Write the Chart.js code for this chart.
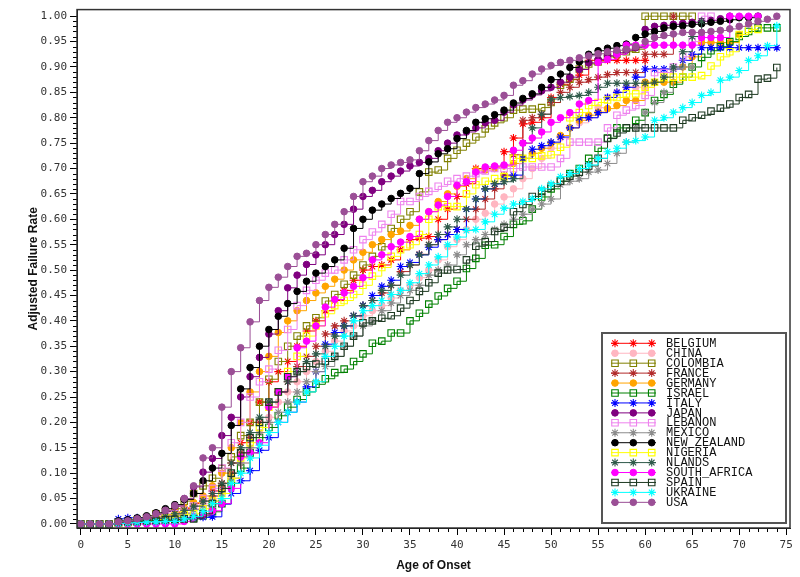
<!DOCTYPE html>
<html>
<head>
<meta charset="utf-8">
<script src="https://cdn.jsdelivr.net/npm/chart.js"></script>
<style>
html,body{margin:0;padding:0;background:#fff;}
#wrap{width:800px;height:577px;position:relative;}
</style>
</head>
<body>
<div id="wrap"><canvas id="c" width="800" height="577"></canvas></div>
<script>
// ---- data (age of onset, adjusted failure rate) ----
const ages = [0,1,2,3,4,5,6,7,8,9,10,11,12,13,14,15,16,17,18,19,20,21,22,23,24,25,26,27,28,29,30,31,32,33,34,35,36,37,38,39,40,41,42,43,44,45,46,47,48,49,50,51,52,53,54,55,56,57,58,59,60,61,62,63,64,65,66,67,68,69,70,71,72,73,74];

const BELGIUM = [0,0,0,0,0.003,0.005,0.007,0.01,0.013,0.017,0.022,0.03,0.04,0.05,0.065,0.08,0.12,0.16,0.20,0.24,0.28,0.30,0.32,0.35,0.38,0.40,0.42,0.44,0.46,0.48,0.50,0.507,0.51,0.52,0.54,0.56,0.563,0.566,0.60,0.62,0.645,0.67,0.70,0.70,0.703,0.733,0.76,0.788,0.791,0.80,0.84,0.866,0.875,0.884,0.913,0.913,0.913,0.913,0.913,0.913,0.913];
const CHINA = [0,0,0,0,0.002,0.004,0.006,0.008,0.01,0.013,0.017,0.022,0.03,0.04,0.05,0.06,0.09,0.12,0.15,0.18,0.21,0.24,0.26,0.28,0.30,0.32,0.34,0.36,0.38,0.39,0.41,0.42,0.43,0.445,0.46,0.47,0.485,0.50,0.52,0.546,0.56,0.58,0.60,0.612,0.63,0.644,0.66,0.68,0.70,0.72,0.74,0.76,0.78,0.79,0.80,0.82,0.84,0.85,0.86,0.86,0.86,0.87];
const COLOMBIA = [0,0,0,0,0.003,0.005,0.008,0.012,0.02,0.025,0.03,0.045,0.06,0.075,0.09,0.109,0.132,0.174,0.20,0.24,0.285,0.32,0.35,0.37,0.39,0.406,0.439,0.452,0.472,0.49,0.51,0.527,0.546,0.582,0.60,0.615,0.654,0.693,0.697,0.72,0.736,0.75,0.762,0.778,0.79,0.80,0.815,0.817,0.817,0.82,0.83,0.864,0.876,0.896,0.906,0.91,0.92,0.925,0.93,0.935,1,1,1,1,1,1];
const FRANCE = [0,0,0,0,0.002,0.004,0.006,0.009,0.012,0.016,0.02,0.027,0.035,0.045,0.055,0.07,0.10,0.14,0.17,0.20,0.23,0.26,0.28,0.31,0.33,0.35,0.374,0.39,0.40,0.41,0.43,0.44,0.455,0.47,0.497,0.51,0.531,0.55,0.56,0.57,0.58,0.60,0.62,0.64,0.66,0.687,0.727,0.795,0.80,0.807,0.83,0.85,0.86,0.87,0.875,0.88,0.885,0.889,0.889,0.889,0.925,0.925,0.925,1];
const GERMANY = [0,0,0,0,0.003,0.005,0.007,0.01,0.014,0.018,0.024,0.032,0.042,0.055,0.075,0.10,0.15,0.20,0.26,0.30,0.33,0.377,0.40,0.42,0.44,0.455,0.468,0.482,0.50,0.52,0.535,0.55,0.56,0.57,0.577,0.588,0.60,0.615,0.635,0.65,0.665,0.68,0.697,0.697,0.70,0.705,0.71,0.72,0.73,0.74,0.75,0.765,0.78,0.795,0.805,0.811,0.818,0.824,0.834,0.834,0.87,0.87,0.87,0.87,0.90,0.92,0.948,0.948,0.948,0.948,0.964];
const ISRAEL = [0,0,0,0,0.002,0.003,0.004,0.005,0.006,0.007,0.008,0.01,0.012,0.016,0.024,0.04,0.08,0.11,0.14,0.17,0.19,0.213,0.23,0.245,0.26,0.275,0.286,0.298,0.305,0.32,0.335,0.356,0.36,0.376,0.376,0.40,0.415,0.433,0.449,0.464,0.478,0.503,0.523,0.549,0.55,0.566,0.59,0.597,0.62,0.644,0.66,0.675,0.69,0.70,0.72,0.74,0.76,0.78,0.78,0.795,0.81,0.834,0.846,0.866,0.88,0.90,0.919,0.932,0.94,0.95,0.96,0.97,0.977,0.977,0.977];
const ITALY = [0,0,0,0,0.01,0.012,0.012,0.012,0.012,0.012,0.012,0.012,0.012,0.013,0.014,0.039,0.06,0.085,0.105,0.145,0.17,0.20,0.22,0.24,0.27,0.30,0.354,0.377,0.39,0.41,0.43,0.45,0.468,0.48,0.507,0.515,0.53,0.545,0.56,0.57,0.58,0.62,0.64,0.66,0.67,0.68,0.687,0.72,0.738,0.745,0.752,0.762,0.78,0.80,0.80,0.81,0.84,0.85,0.86,0.88,0.896,0.896,0.896,0.896,0.913,0.925,0.938,0.938,0.938,0.938,0.938,0.938,0.938,0.938,0.938];
const JAPAN = [0,0,0,0,0.003,0.005,0.008,0.012,0.018,0.025,0.035,0.05,0.073,0.102,0.129,0.174,0.21,0.25,0.29,0.328,0.374,0.42,0.465,0.49,0.511,0.53,0.55,0.57,0.59,0.62,0.645,0.657,0.674,0.685,0.695,0.705,0.712,0.72,0.735,0.75,0.766,0.772,0.78,0.79,0.795,0.811,0.825,0.835,0.845,0.853,0.86,0.87,0.88,0.895,0.908,0.915,0.922,0.928,0.933,0.938,0.974,0.98,0.982,0.984,0.986,0.988,0.99,0.992,0.995,1];
const LEBANON = [0,0,0,0,0.002,0.004,0.006,0.009,0.012,0.016,0.02,0.027,0.035,0.05,0.07,0.11,0.16,0.20,0.25,0.28,0.305,0.342,0.383,0.43,0.46,0.48,0.494,0.50,0.52,0.54,0.56,0.575,0.59,0.61,0.635,0.635,0.645,0.655,0.665,0.675,0.68,0.685,0.69,0.695,0.70,0.70,0.70,0.703,0.703,0.703,0.703,0.72,0.752,0.752,0.752,0.752,0.78,0.805,0.815,0.824,0.844,0.889,0.889,0.90,0.92,0.95,1,1];
const MEXICO = [0,0,0,0,0.002,0.003,0.005,0.007,0.009,0.012,0.016,0.021,0.028,0.036,0.045,0.06,0.09,0.12,0.15,0.18,0.20,0.22,0.24,0.26,0.28,0.30,0.31,0.33,0.35,0.37,0.39,0.40,0.42,0.435,0.45,0.46,0.47,0.49,0.50,0.51,0.53,0.55,0.56,0.57,0.58,0.59,0.60,0.61,0.62,0.63,0.64,0.668,0.675,0.68,0.693,0.697,0.71,0.73,0.752,0.78,0.811,0.83,0.85,0.896,0.90,0.90];
const NEW_ZEALAND = [0,0,0,0,0.006,0.008,0.012,0.016,0.022,0.03,0.038,0.048,0.06,0.085,0.11,0.139,0.194,0.266,0.308,0.35,0.383,0.409,0.434,0.458,0.478,0.494,0.507,0.52,0.543,0.582,0.60,0.618,0.63,0.641,0.651,0.661,0.69,0.713,0.729,0.739,0.759,0.775,0.791,0.798,0.806,0.815,0.829,0.838,0.847,0.86,0.875,0.886,0.899,0.91,0.925,0.932,0.937,0.942,0.945,0.958,0.965,0.97,0.977,0.98,0.981,0.984,0.985,0.988,0.99,0.993,0.997,0.997,1];
const NIGERIA = [0,0,0,0,0.002,0.003,0.005,0.007,0.009,0.012,0.015,0.018,0.02,0.03,0.045,0.06,0.09,0.13,0.16,0.19,0.23,0.26,0.30,0.33,0.37,0.39,0.414,0.43,0.44,0.452,0.47,0.488,0.505,0.527,0.54,0.55,0.57,0.60,0.625,0.625,0.625,0.65,0.668,0.675,0.68,0.684,0.72,0.72,0.72,0.725,0.727,0.742,0.80,0.81,0.824,0.83,0.835,0.84,0.847,0.847,0.86,0.87,0.88,0.88,0.88,0.88,0.883,0.902,0.92,0.93,0.964,0.974,0.974];
const NLANDS = [0,0,0,0,0.002,0.004,0.006,0.008,0.011,0.015,0.02,0.027,0.035,0.045,0.06,0.08,0.12,0.15,0.18,0.21,0.24,0.26,0.28,0.30,0.32,0.335,0.35,0.37,0.39,0.41,0.43,0.44,0.46,0.47,0.49,0.51,0.53,0.55,0.57,0.585,0.60,0.62,0.64,0.66,0.67,0.674,0.68,0.75,0.78,0.807,0.837,0.84,0.842,0.844,0.85,0.86,0.868,0.868,0.868,0.868,0.868,0.87,0.88,0.90,0.93,0.96,0.99];
const SOUTH_AFRICA = [0,0,0,0,0,0,0,0,0,0,0,0.005,0.014,0.018,0.026,0.04,0.07,0.132,0.14,0.16,0.23,0.26,0.29,0.347,0.36,0.39,0.427,0.442,0.455,0.468,0.485,0.52,0.53,0.546,0.555,0.566,0.60,0.615,0.628,0.645,0.667,0.674,0.693,0.703,0.705,0.707,0.736,0.75,0.76,0.772,0.791,0.80,0.81,0.827,0.834,0.909,0.915,0.925,0.943,0.943,0.943,0.943,0.943,0.943,0.943,0.943,0.958,0.958,0.958,1,1,1,1];
const SPAIN = [0,0,0,0,0.003,0.004,0.005,0.006,0.007,0.008,0.009,0.01,0.01,0.02,0.04,0.07,0.10,0.14,0.17,0.20,0.24,0.26,0.29,0.30,0.31,0.315,0.32,0.33,0.35,0.37,0.396,0.40,0.405,0.41,0.425,0.44,0.458,0.475,0.494,0.50,0.501,0.52,0.547,0.556,0.576,0.584,0.615,0.629,0.645,0.655,0.665,0.675,0.685,0.693,0.705,0.72,0.759,0.77,0.78,0.78,0.78,0.78,0.78,0.78,0.795,0.80,0.805,0.813,0.819,0.827,0.84,0.846,0.876,0.878,0.899];
const UKRAINE = [0,0,0,0,0.001,0.002,0.003,0.004,0.004,0.005,0.005,0.01,0.015,0.025,0.04,0.05,0.08,0.10,0.13,0.155,0.18,0.20,0.22,0.24,0.26,0.28,0.33,0.35,0.37,0.40,0.42,0.43,0.44,0.452,0.46,0.475,0.493,0.51,0.526,0.55,0.565,0.578,0.58,0.595,0.61,0.622,0.63,0.635,0.641,0.66,0.67,0.684,0.69,0.70,0.707,0.72,0.733,0.74,0.752,0.755,0.762,0.795,0.80,0.811,0.82,0.83,0.844,0.85,0.874,0.88,0.893,0.913,0.922,0.942,0.981];
const USA = [0,0,0,0,0.004,0.006,0.01,0.014,0.02,0.027,0.036,0.05,0.075,0.13,0.15,0.23,0.30,0.347,0.398,0.44,0.466,0.486,0.507,0.527,0.533,0.55,0.57,0.59,0.615,0.645,0.674,0.685,0.70,0.707,0.712,0.717,0.735,0.755,0.775,0.791,0.80,0.811,0.82,0.827,0.835,0.844,0.864,0.873,0.886,0.896,0.903,0.909,0.913,0.918,0.922,0.926,0.93,0.933,0.935,0.94,0.95,0.958,0.962,0.965,0.968,0.968,0.968,0.97,0.972,0.975,0.98,0.985,0.99,0.994,1];

const countries = ['BELGIUM','CHINA','COLOMBIA','FRANCE','GERMANY','ISRAEL','ITALY','JAPAN','LEBANON','MEXICO','NEW_ZEALAND','NIGERIA','NLANDS','SOUTH_AFRICA','SPAIN','UKRAINE','USA'];
const seriesValues = [BELGIUM,CHINA,COLOMBIA,FRANCE,GERMANY,ISRAEL,ITALY,JAPAN,LEBANON,MEXICO,NEW_ZEALAND,NIGERIA,NLANDS,SOUTH_AFRICA,SPAIN,UKRAINE,USA];

const xTickValues = [0,5,10,15,20,25,30,35,40,45,50,55,60,65,70,75];
const yTickValues = [0,0.05,0.10,0.15,0.20,0.25,0.30,0.35,0.40,0.45,0.50,0.55,0.60,0.65,0.70,0.75,0.80,0.85,0.90,0.95,1.00];

// ---- styles ----
const colors = ['#ff0000','#ffb6c1','#808000','#b22a2a','#ffa500','#008000','#0000ff','#800080','#ee82ee','#8c8c8c','#000000','#ffff00','#2f5a4a','#ff00ff','#1e3a22','#00ffff','#9b4f96'];
const symbols = ['star','circle','rectOpen','star','circle','rectOpen','star','circle','rectOpen','star','circle','rectOpen','star','circle','rectOpen','star','circle'];

function styleFor(sym, col){
  if (sym === 'circle') return {pointStyle:'circle', pointRadius:3.3, pointBackgroundColor:col, pointBorderColor:col, pointBorderWidth:1};
  if (sym === 'rectOpen') return {pointStyle:'rect', pointRadius:4.6, pointBackgroundColor:'rgba(255,255,255,0)', pointBorderColor:col, pointBorderWidth:1.1};
  return {pointStyle:'star', pointRadius:4, pointBackgroundColor:col, pointBorderColor:col, pointBorderWidth:1.1};
}

const n = countries.length;
const datasets = countries.map((name, i) => Object.assign({
  label: name,
  data: seriesValues[i].map((v, k) => ({x: ages[k], y: v})),
  borderColor: colors[i],
  backgroundColor: colors[i],
  borderWidth: 1,
  stepped: true,
  fill: false,
  tension: 0,
  order: n - 1 - i
}, styleFor(symbols[i], colors[i])));

// ---- plugins ----
const whiteBg = {
  id:'whiteBg',
  beforeDraw(chart){ const c = chart.ctx; c.save(); c.fillStyle='#fff'; c.fillRect(0,0,chart.width,chart.height); c.restore(); }
};

const minorTicks = {
  id:'minorTicks',
  afterDraw(chart){
    const {ctx, scales:{x, y}, chartArea} = chart;
    ctx.save();
    ctx.strokeStyle = '#000';
    ctx.lineWidth = 1;
    for (let a = Math.ceil(x.min); a <= Math.floor(x.max); a += 1) {
      if (a % 5 === 0) continue;
      const px = Math.round(x.getPixelForValue(a)) + 0.5;
      ctx.beginPath(); ctx.moveTo(px, chartArea.bottom); ctx.lineTo(px, chartArea.bottom + 4); ctx.stroke();
    }
    for (let k = 0; k <= 100; k += 1) {
      if (k % 5 === 0) continue;
      const py = Math.round(y.getPixelForValue(k / 100)) + 0.5;
      ctx.beginPath(); ctx.moveTo(chartArea.left, py); ctx.lineTo(chartArea.left - 4, py); ctx.stroke();
    }
    ctx.strokeStyle = '#333';
    ctx.lineWidth = 1.5;
    ctx.strokeRect(chartArea.left, chartArea.top, chartArea.right - chartArea.left, chartArea.bottom - chartArea.top);
    ctx.restore();
  }
};

function drawMarker(ctx, ds, x, y){
  ctx.fillStyle = ds.pointBackgroundColor;
  ctx.strokeStyle = ds.pointBorderColor;
  ctx.lineWidth = ds.pointBorderWidth;
  if (Chart.helpers && Chart.helpers.drawPoint) {
    Chart.helpers.drawPoint(ctx, {pointStyle: ds.pointStyle, radius: ds.pointRadius, rotation: 0, borderWidth: ds.pointBorderWidth}, x, y);
    return;
  }
  ctx.beginPath(); ctx.arc(x, y, ds.pointRadius, 0, Math.PI*2); ctx.fill(); ctx.stroke();
}

const boxLegend = {
  id:'boxLegend',
  afterDraw(chart){
    const {ctx, chartArea} = chart;
    const w = 184, h = 190;
    const left = chartArea.right - 188, top = chartArea.bottom - 195;
    ctx.save();
    ctx.fillStyle = '#fff';
    ctx.fillRect(left, top, w, h);
    ctx.strokeStyle = '#555';
    ctx.lineWidth = 2;
    ctx.strokeRect(left, top, w, h);
    const rowH = 9.94;
    chart.data.datasets.forEach((ds, i) => {
      const yy = top + 10.3 + i * rowH;
      ctx.strokeStyle = ds.borderColor;
      ctx.lineWidth = 1;
      ctx.beginPath(); ctx.moveTo(left + 9, yy); ctx.lineTo(left + 54, yy); ctx.stroke();
      [13, 31.3, 49.7].forEach(dx => drawMarker(ctx, ds, left + dx, yy));
      ctx.fillStyle = '#111';
      ctx.font = '12px "Liberation Mono", "DejaVu Sans Mono", monospace';
      ctx.textBaseline = 'middle';
      ctx.textAlign = 'left';
      ctx.fillText(ds.label, left + 64, yy + 0.5);
    });
    ctx.restore();
  }
};

const tickFont = {family: '"DejaVu Sans Mono", monospace', size: 11};

new Chart(document.getElementById('c'), {
  type: 'line',
  data: {datasets},
  options: {
    responsive: false,
    animation: false,
    events: [],
    layout: {padding: {top: 7, right: 10, left: 0, bottom: 0}},
    plugins: {legend: {display: false}, tooltip: {enabled: false}, title: {display: false}},
    scales: {
      x: {
        type: 'linear',
        min: -0.4, max: 75.4,
        afterBuildTicks(s){ s.ticks = xTickValues.map(v => ({value: v})); },
        afterFit(s){ s.height = 49; },
        ticks: {font: tickFont, color: '#333', padding: 4, maxRotation: 0, autoSkip: false, callback: v => String(v)},
        grid: {drawOnChartArea: false, tickLength: 7, color: '#000', tickColor: '#000', tickWidth: 1},
        border: {color: '#000', width: 1},
        title: {display: true, text: 'Age of Onset', color: '#111', font: {family: '"Liberation Sans", Arial, sans-serif', size: 12, weight: 'bold'}, padding: {top: 4, bottom: 4}}
      },
      y: {
        type: 'linear',
        min: -0.008, max: 1.013,
        afterBuildTicks(s){ s.ticks = yTickValues.map(v => ({value: v})); },
        afterFit(s){ s.width = 77; },
        ticks: {font: tickFont, color: '#333', padding: 3, autoSkip: false, callback: v => v.toFixed(2)},
        grid: {drawOnChartArea: false, tickLength: 7, color: '#000', tickColor: '#000', tickWidth: 1},
        border: {color: '#000', width: 1},
        title: {display: true, text: 'Adjusted Failure Rate', color: '#111', font: {family: '"Liberation Sans", Arial, sans-serif', size: 12, weight: 'bold'}, padding: {top: 26, bottom: 0}}
      }
    }
  },
  plugins: [whiteBg, minorTicks, boxLegend]
});
</script>
</body>
</html>
